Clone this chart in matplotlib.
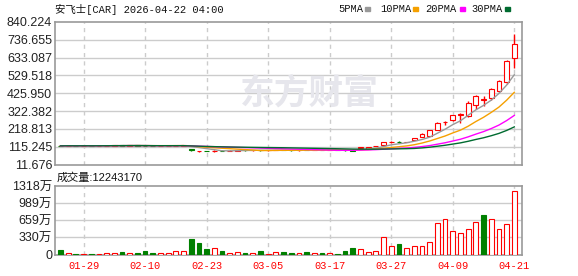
# 安飞士 (CAR) daily K-line with MA lines and volume, eastmoney style
import numpy as np
import pandas as pd
import matplotlib
matplotlib.use('Agg')
import matplotlib.pyplot as plt

# 60 trading days shown
dates = ['01-26', '01-27', '01-28', '01-29', '01-30', '02-02', '02-03', '02-04', '02-05', '02-06',
         '02-09', '02-10', '02-11', '02-12', '02-13', '02-17', '02-18', '02-19', '02-20', '02-23',
         '02-24', '02-25', '02-26', '02-27', '03-02', '03-03', '03-04', '03-05', '03-06', '03-09',
         '03-10', '03-11', '03-12', '03-13', '03-16', '03-17', '03-18', '03-19', '03-20', '03-23',
         '03-24', '03-25', '03-26', '03-27', '03-30', '03-31', '04-01', '04-02', '04-06', '04-07',
         '04-08', '04-09', '04-10', '04-13', '04-14', '04-15', '04-16', '04-17', '04-20', '04-21']

opens = [122, 118, 121, 120, 121, 120, 121, 122, 123, 122,
         123, 122, 120, 119, 120, 121, 122, 100, 88, 92,
         88, 93, 91, 93, 95, 94, 96, 94, 95, 97,
         95, 94, 96, 95, 96, 95, 97, 96, 98, 108,
         104, 119, 123, 142, 142, 142, 155, 174, 180, 214,
         258, 273, 302, 291, 359, 388, 401, 441, 493, 630]
closes = [120, 121, 120, 121, 120, 121, 122, 123, 122, 123,
          122, 120, 119, 120, 121, 122, 123, 95, 90, 89,
          92, 91, 93, 95, 94, 96, 94, 95, 97, 95,
          94, 96, 95, 96, 95, 97, 96, 94, 92, 111,
          114, 121, 141, 144, 140, 144, 166, 191, 212, 255,
          260, 299, 304, 372, 412, 390, 451, 499, 613, 715]
highs = [123, 122, 121, 122, 121, 121, 123, 124, 123, 124,
         123, 123, 121, 121, 122, 123, 125, 102, 92, 93,
         96, 94, 94, 96, 96, 97, 97, 96, 98, 98,
         96, 97, 97, 97, 97, 98, 98, 97, 99, 114,
         115, 122, 142, 150, 146, 145, 167, 192, 213, 256,
         267, 302, 311, 378, 414, 412, 457, 504, 617, 773]
lows = [119, 117, 119, 120, 119, 120, 120, 121, 121, 122,
        121, 119, 118, 119, 119, 120, 121, 93, 87, 88,
        85, 90, 90, 92, 93, 93, 93, 93, 94, 94,
        93, 93, 94, 94, 94, 94, 95, 93, 91, 105,
        103, 118, 122, 137, 136, 141, 153, 172, 178, 210,
        244, 265, 253, 289, 335, 352, 385, 435, 481, 574]

# 成交量 in 万股
vol_wan = [80, 30, 15, 15, 15, 15, 35, 35, 40, 35,
           30, 60, 30, 30, 35, 70, 70, 300, 220, 100,
           120, 60, 35, 45, 30, 35, 60, 15, 50, 40,
           30, 25, 40, 25, 25, 25, 12, 65, 125, 100,
           45, 65, 340, 160, 210, 120, 160, 160, 250, 610,
           680, 460, 420, 500, 630, 760, 680, 490, 580, 1224.317]

price_ticks = ['11.676', '115.245', '218.813', '322.382', '425.950', '529.518', '633.087', '736.655', '840.224']
vol_ticks = [0, 330, 659, 989, 1318]
date_ticks = ['01-29', '02-10', '02-23', '03-05', '03-17', '03-27', '04-09', '04-21']
ma_windows = [5, 10, 20, 30]
ma_colors = ['#999999', '#f5a000', '#ff00ff', '#006b30']

RED = '#ff0000'
GREEN = '#008000'
GRID = '#cccccc'
SPINE = '#999999'
sans = ['Liberation Sans', 'Noto Sans CJK SC']
mono = ['Liberation Mono', 'Noto Sans CJK SC']

o = np.array(opens, float)
c = np.array(closes, float)
h = np.array(highs, float)
l = np.array(lows, float)
v = np.array(vol_wan, float) * 1e4
x = np.arange(len(dates))
tick_pos = [dates.index(d) for d in date_ticks]

fig = plt.figure(figsize=(5.78, 2.76), dpi=100)
ax = fig.add_axes([55 / 578, 1 - 164.5 / 276, 467 / 578, 142.5 / 276])
axv = fig.add_axes([55 / 578, 1 - 254.5 / 276, 467 / 578, 68.5 / 276])

for a in (ax, axv):
    a.set_xlim(-0.715, 60.0)
    for s in a.spines.values():
        s.set_color(SPINE)
        s.set_linewidth(1.2)
    for p in tick_pos:
        a.axvline(p, color=GRID, lw=1, ls=(0, (3, 3)), zorder=0)
    a.tick_params(length=0, colors='#222222', labelsize=9)

# price panel
pvals = [float(t) for t in price_ticks]
ax.set_ylim(pvals[0], pvals[-1])
ax.set_yticks(pvals)
ax.set_yticklabels(price_ticks, fontfamily=sans)
ax.tick_params(axis='y', pad=2)
ax.set_xticks([])
for p in pvals[1:-1]:
    ax.axhline(p, color=GRID, lw=1, zorder=0)

ax.text(0.545, 0.5, '东方财富', transform=ax.transAxes, ha='center', va='center',
        fontsize=25, fontweight='bold', color='#e6e6ec', family='Noto Sans CJK SC', zorder=0)

up = c >= o
ccol = np.where(up, RED, GREEN)
ax.vlines(x, l, h, colors=ccol, lw=1, zorder=3)
body_lo = np.minimum(o, c)
body_h = np.maximum(np.abs(c - o), 0.8)
ax.bar(x, body_h, bottom=body_lo, width=0.62, color=np.where(up, 'white', GREEN),
       edgecolor=ccol, lw=0.8, zorder=4)

ser = pd.Series(c)
for n, col in zip(ma_windows, ma_colors):
    ax.plot(x, ser.rolling(n, min_periods=1).mean(), color=col, lw=1, zorder=5)

# volume panel
prev = np.concatenate([[o[0]], c[:-1]])
vup = np.where(c == prev, c >= o, c > prev)
vcol = np.where(vup, RED, GREEN)
axv.bar(x, v, width=0.62, color=np.where(vup, 'white', GREEN), edgecolor=vcol, lw=0.8, zorder=3)
axv.set_ylim(0, vol_ticks[-1] * 1e4)
axv.set_yticks([t * 1e4 for t in vol_ticks])
axv.set_yticklabels(['0'] + [f'{t}万' for t in vol_ticks[1:]], fontfamily=sans)
axv.tick_params(axis='y', pad=2)
for t in vol_ticks[1:-1]:
    axv.axhline(t * 1e4, color=GRID, lw=1, zorder=0)
axv.set_xticks(tick_pos)
axv.set_xticklabels(date_ticks, color=RED, fontfamily=mono, fontsize=7.5)
axv.tick_params(axis='x', pad=5)

# header texts
fig.text(55 / 578, 1 - 9 / 276, '安飞士[CAR] 2026-04-22 04:00', ha='left', va='center',
         fontsize=7.5, family=mono, color='#111111')
fig.text(57 / 578, 1 - 178 / 276, '成交量:' + str(int(round(v[-1]))), ha='left', va='center',
         fontsize=8, family=sans, color='#111111')

leg_x = [338, 380, 425, 471]
sw_x = [365, 413, 460, 505]
for n, col, tx, sx in zip(ma_windows, ma_colors, leg_x, sw_x):
    fig.text(tx / 578, 1 - 9 / 276, f'{n}PMA', ha='left', va='center', fontsize=7.5,
             family=mono, color='#111111')
    fig.patches.append(plt.Rectangle((sx / 578, 1 - 10.5 / 276), 5 / 578, 3 / 276,
                                     transform=fig.transFigure, color=col, figure=fig))

fig.savefig('out.png', dpi=100)
